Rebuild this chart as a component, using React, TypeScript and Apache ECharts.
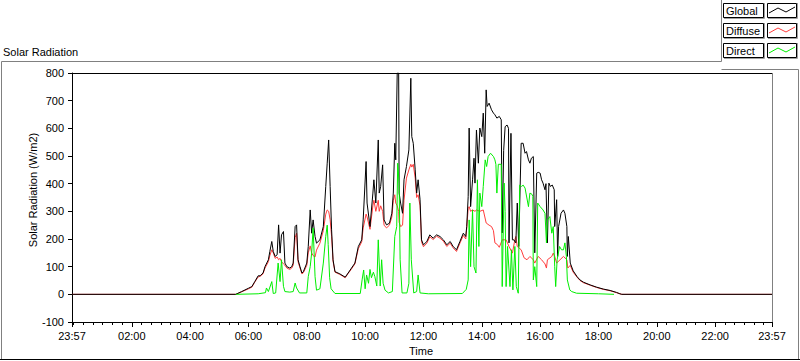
import React, { useEffect, useRef } from "react";
import * as echarts from "echarts";

// Each point: [minutes since midnight, W/m2]; the axis runs 23:57 -> 23:57
const globalData: [number, number][] = [[-3,0],[334,0],[346,10],[360,22],[367,28],[373,46],[380,67],[384,67],[390,77],[394,100],[401,125],[404,155],[408,191],[411,155],[415,137],[419,143],[422,251],[425,149],[428,215],[432,227],[435,113],[439,100],[445,95],[449,100],[452,113],[456,245],[459,251],[462,125],[466,100],[470,77],[473,82],[480,113],[483,173],[487,305],[490,221],[493,269],[497,209],[500,185],[507,197],[514,245],[519,390],[522,474],[525,558],[528,390],[531,233],[534,125],[538,82],[548,74],[559,62],[565,77],[572,95],[579,113],[586,173],[593,197],[596,269],[602,480],[604,330],[610,245],[616,366],[618,414],[622,330],[627,558],[629,366],[632,390],[636,468],[639,269],[644,251],[650,257],[655,293],[658,366],[661,546],[663,486],[666,800],[669,800],[670,366],[673,330],[677,293],[680,414],[685,462],[690,522],[694,781],[696,570],[699,546],[703,450],[706,366],[709,414],[713,342],[716,197],[720,179],[727,191],[733,215],[740,203],[747,215],[754,209],[761,197],[768,179],[775,191],[781,173],[788,161],[795,191],[802,221],[807,209],[809,245],[812,353],[814,601],[817,317],[821,414],[824,492],[826,402],[829,594],[833,474],[836,601],[840,570],[843,655],[846,510],[849,739],[851,679],[855,691],[860,667],[864,655],[867,649],[871,637],[876,643],[880,631],[882,222],[885,520],[888,606],[892,612],[895,600],[896,186],[900,582],[903,197],[906,197],[910,186],[913,330],[916,173],[921,546],[925,546],[929,510],[932,516],[936,486],[939,474],[942,492],[946,498],[949,150],[953,438],[956,441],[960,438],[963,414],[966,402],[970,378],[972,400],[975,186],[978,402],[981,390],[985,395],[989,378],[990,245],[994,342],[996,137],[998,245],[1003,293],[1008,305],[1011,293],[1015,245],[1016,137],[1018,209],[1022,113],[1028,85],[1036,64],[1042,52],[1049,44],[1063,34],[1076,26],[1090,19],[1104,14],[1117,7],[1124,2],[1128,0],[1437,0]];

const diffuseData: [number, number][] = [[-3,0],[334,0],[346,9],[360,20],[367,26],[373,44],[380,63],[384,65],[390,74],[394,95],[401,118],[404,140],[408,161],[411,150],[415,130],[419,135],[422,125],[425,130],[428,118],[432,110],[435,105],[439,95],[445,90],[449,95],[452,105],[456,205],[459,221],[462,118],[466,95],[470,74],[473,78],[480,105],[483,150],[487,175],[490,150],[493,140],[497,135],[500,160],[507,185],[514,230],[519,290],[522,305],[525,300],[528,270],[531,210],[534,120],[538,80],[548,72],[559,60],[565,75],[572,92],[579,110],[586,165],[593,190],[596,240],[602,290],[604,280],[610,235],[616,320],[618,340],[622,300],[627,340],[629,300],[632,320],[636,300],[639,250],[644,240],[650,250],[655,280],[658,340],[661,360],[663,330],[666,320],[669,300],[670,260],[673,245],[677,250],[680,340],[685,420],[690,450],[694,470],[696,460],[699,470],[703,420],[706,350],[709,360],[713,320],[716,190],[720,172],[727,185],[733,208],[740,198],[747,210],[754,203],[761,192],[768,173],[775,185],[781,168],[788,155],[795,185],[802,213],[807,200],[809,240],[812,310],[814,317],[817,300],[821,305],[826,300],[829,305],[836,300],[843,305],[849,258],[855,250],[860,245],[864,230],[867,186],[872,180],[876,170],[882,197],[890,197],[896,173],[903,149],[908,197],[910,209],[913,173],[921,161],[927,132],[933,125],[939,137],[946,125],[949,113],[956,137],[963,125],[970,110],[973,95],[975,125],[984,137],[987,149],[990,137],[994,113],[1001,125],[1008,137],[1015,125],[1017,95],[1022,105],[1028,80],[1036,62],[1042,50],[1049,42],[1063,33],[1076,25],[1090,18],[1104,13],[1117,6],[1124,2],[1128,0],[1437,0]];

const directData: [number, number][] = [[334,0],[380,2],[395,6],[397,23],[401,10],[408,46],[411,3],[416,5],[421,113],[425,46],[428,125],[432,29],[435,10],[445,8],[452,10],[456,41],[459,23],[465,5],[480,5],[483,64],[487,100],[490,149],[493,240],[497,64],[500,15],[507,20],[514,113],[519,209],[522,250],[524,180],[527,60],[530,20],[538,3],[590,3],[594,55],[597,88],[600,20],[603,70],[607,40],[610,90],[613,60],[617,80],[620,64],[624,30],[627,197],[631,30],[634,125],[637,40],[641,15],[648,5],[656,10],[661,209],[665,245],[667,474],[670,402],[672,125],[676,5],[686,5],[690,40],[692,330],[695,125],[700,5],[706,10],[709,70],[713,5],[730,2],[800,3],[808,18],[812,52],[814,269],[817,100],[821,305],[824,100],[828,77],[831,414],[834,173],[836,366],[840,317],[843,390],[847,486],[850,462],[853,498],[858,510],[864,498],[867,486],[869,470],[871,366],[874,470],[880,470],[882,28],[886,402],[888,300],[890,28],[893,173],[898,28],[901,161],[904,16],[908,173],[911,28],[915,4],[918,395],[922,390],[925,395],[929,384],[936,317],[939,366],[943,362],[945,354],[946,52],[949,100],[953,28],[955,330],[960,317],[966,305],[970,293],[973,186],[975,269],[980,281],[984,221],[987,245],[990,100],[992,28],[995,125],[1000,173],[1004,161],[1008,161],[1011,186],[1014,137],[1016,52],[1021,16],[1025,10],[1035,4],[1080,2],[1112,0]];

const majorTicks = [-3, 120, 240, 360, 480, 600, 720, 840, 960, 1080, 1200, 1320, 1437];
const tickLabels = ["23:57", "02:00", "04:00", "06:00", "08:00", "10:00", "12:00", "14:00", "16:00", "18:00", "20:00", "22:00", "23:57"];
const seriesNames = ["Global", "Diffuse", "Direct"];
const seriesColors = ["#000000", "#ff3c3c", "#00ee00"];

const FONT_FAMILY = '"Liberation Sans", Arial, sans-serif';
const FONT = '11px "Liberation Sans", Arial, sans-serif';

export default function App() {
  const ref = useRef<HTMLDivElement>(null);
  useEffect(() => {
    if (!ref.current) return;
    const chart = echarts.init(ref.current, undefined, { renderer: "svg" });
    const minorTicks: number[] = [];
    for (let m = 0; m <= 1420; m += 20) if (m % 120 !== 0 || m === 0) minorTicks.push(m);

    const legendGraphics: any[] = [];
    seriesNames.forEach((name, i) => {
      const y0 = 3 + 20 * i;
      legendGraphics.push(
        { type: "rect", shape: { x: 723.5, y: y0 + 0.5, width: 40, height: 14 }, style: { fill: "#fff", stroke: "#000", lineWidth: 1 } },
        { type: "polyline", shape: { points: [[724, y0 + 15.5], [764.5, y0 + 15.5], [764.5, y0]] }, style: { stroke: "#a0a0a0", fill: null, lineWidth: 1 } },
        { type: "text", x: 726, y: y0 + 8, style: { text: name, font: FONT, fill: "#000", textVerticalAlign: "middle" } },
        { type: "rect", shape: { x: 767.5, y: y0 + 0.5, width: 29, height: 14 }, style: { fill: "#fff", stroke: "#000", lineWidth: 1 } },
        { type: "polyline", shape: { points: [[768, y0 + 15.5], [797.5, y0 + 15.5], [797.5, y0]] }, style: { stroke: "#a0a0a0", fill: null, lineWidth: 1 } },
        { type: "polyline", shape: { points: [[769, y0 + 10], [778, y0 + 5], [786, y0 + 9], [795, y0 + 4]] }, style: { stroke: seriesColors[i], fill: null, lineWidth: 1 } }
      );
    });

    chart.setOption({
      animation: false,
      backgroundColor: "#ffffff",
      grid: { left: 72, top: 73, width: 700, height: 249, containLabel: false },
      xAxis: [
        {
          type: "value",
          min: -3,
          max: 1437,
          position: "bottom",
          axisLine: { show: true, onZero: false, lineStyle: { color: "#000", width: 1 } },
          axisTick: { show: true, customValues: majorTicks, length: 5, lineStyle: { color: "#000" } },
          axisLabel: {
            show: true,
            customValues: majorTicks,
            margin: 8,
            color: "#000",
            fontSize: 11,
            fontFamily: FONT_FAMILY,
            showMinLabel: true,
            showMaxLabel: true,
            formatter: (v: number) => {
              const i = majorTicks.indexOf(Math.round(v));
              return i >= 0 ? tickLabels[i] : "";
            },
          },
          splitLine: { show: false },
        },
        {
          type: "value",
          min: -3,
          max: 1437,
          position: "bottom",
          gridIndex: 0,
          axisLine: { show: false, onZero: false },
          axisTick: { show: true, customValues: minorTicks, length: 3, lineStyle: { color: "#000" } },
          axisLabel: { show: false },
          splitLine: { show: false },
        },
      ],
      yAxis: {
        type: "value",
        min: -100,
        max: 800,
        interval: 100,
        axisLine: { show: true, onZero: false, lineStyle: { color: "#000", width: 1 } },
        axisTick: { show: true, length: 4, lineStyle: { color: "#000" } },
        axisLabel: { margin: 8, color: "#000", fontSize: 11, fontFamily: FONT_FAMILY },
        splitLine: { show: false },
      },
      series: [
        { name: seriesNames[1], type: "line", data: diffuseData, symbol: "none", lineStyle: { width: 1, color: seriesColors[1] }, itemStyle: { color: seriesColors[1] }, z: 2 },
        { name: seriesNames[0], type: "line", data: globalData, symbol: "none", lineStyle: { width: 1, color: seriesColors[0] }, itemStyle: { color: seriesColors[0] }, z: 3 },
        { name: seriesNames[2], type: "line", data: directData, symbol: "none", lineStyle: { width: 1, color: seriesColors[2] }, itemStyle: { color: seriesColors[2] }, z: 4 },
      ],
      graphic: [
        { type: "polyline", shape: { points: [[1.5, 360], [1.5, 61.5], [721.5, 61.5], [721.5, 0]] }, style: { stroke: "#808080", fill: null, lineWidth: 1 } },
        { type: "polyline", shape: { points: [[721.5, 69.5], [798.5, 69.5], [798.5, 359]] }, style: { stroke: "#808080", fill: null, lineWidth: 1 } },
        { type: "line", shape: { x1: 0, y1: 359.5, x2: 800, y2: 359.5 }, style: { stroke: "#000", lineWidth: 1 } },
        { type: "line", shape: { x1: 72, y1: 73.5, x2: 772, y2: 73.5 }, style: { stroke: "#000", lineWidth: 1 } },
        { type: "line", shape: { x1: 772.5, y1: 73, x2: 772.5, y2: 322 }, style: { stroke: "#808080", lineWidth: 1 } },
        { type: "text", x: 3, y: 52, style: { text: "Solar Radiation", font: FONT, fill: "#000", textVerticalAlign: "middle" } },
        { type: "text", x: 33, y: 190, rotation: Math.PI / 2, style: { text: "Solar Radiation (W/m2)", font: FONT, fill: "#000", textAlign: "center", textVerticalAlign: "middle" } },
        { type: "text", x: 421, y: 351, style: { text: "Time", font: FONT, fill: "#000", textAlign: "center", textVerticalAlign: "middle" } },
        ...legendGraphics,
      ],
    });
    return () => chart.dispose();
  }, []);
  return <div ref={ref} style={{ position: "fixed", left: 0, top: 0, width: 800, height: 361 }} />;
}
